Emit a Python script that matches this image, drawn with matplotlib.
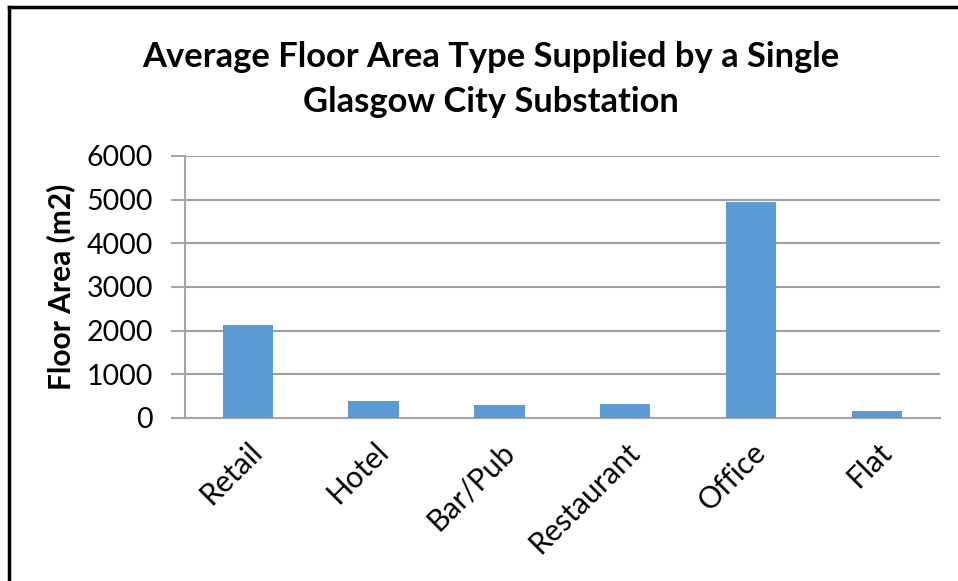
import matplotlib.pyplot as plt
from matplotlib.lines import Line2D

categories = ["Retail", "Hotel", "Bar/Pub", "Restaurant", "Office", "Flat"]
floor_area = [2120, 400, 290, 310, 4940, 150]
yticks = [0, 1000, 2000, 3000, 4000, 5000, 6000]

plt.rcParams['font.family'] = ['Lato', 'DejaVu Sans']

fig = plt.figure(figsize=(9.58, 5.81), dpi=100)
ax = fig.add_axes([0.193, 0.2806, 0.788, 0.4509])

x = range(len(categories))
ax.bar(x, floor_area, width=0.4, color="#5B9BD5", zorder=3)

ax.set_xlim(-0.5, len(categories) - 0.5)
ax.set_ylim(0, 6000)
ax.set_yticks(yticks)
ax.set_yticklabels([str(v) for v in yticks], fontsize=20.5)
ax.set_xticks(list(x))
ax.set_xticklabels(categories, fontsize=21.5, rotation=45, ha="right",
                   rotation_mode="anchor")
ax.tick_params(axis="x", length=0, pad=14)
ax.tick_params(axis="y", length=10, width=1.5, color="#a6a6a6", pad=13)

ax.grid(axis="y", color="#a0a0a0", linewidth=1.5, zorder=0)
for side in ["top", "right"]:
    ax.spines[side].set_visible(False)
for side in ["left", "bottom"]:
    ax.spines[side].set_color("#a6a6a6")
    ax.spines[side].set_linewidth(1.5)

ax.set_ylabel("Floor Area (m2)", fontsize=21.5, fontweight="bold", labelpad=8)

fig.text(0.512, 0.864, "Average Floor Area Type Supplied by a Single\nGlasgow City Substation",
         ha="center", va="center", fontsize=24.8, fontweight="bold", linespacing=1.5)

# outer frame, only the left and top edges fall inside the image
fig.add_artist(Line2D([0.0095, 0.0095], [0, 0.988], transform=fig.transFigure,
                      color="black", linewidth=2.5))
fig.add_artist(Line2D([0.0095, 1.0], [0.988, 0.988], transform=fig.transFigure,
                      color="black", linewidth=2.5))

fig.savefig("out.png", dpi=100)
